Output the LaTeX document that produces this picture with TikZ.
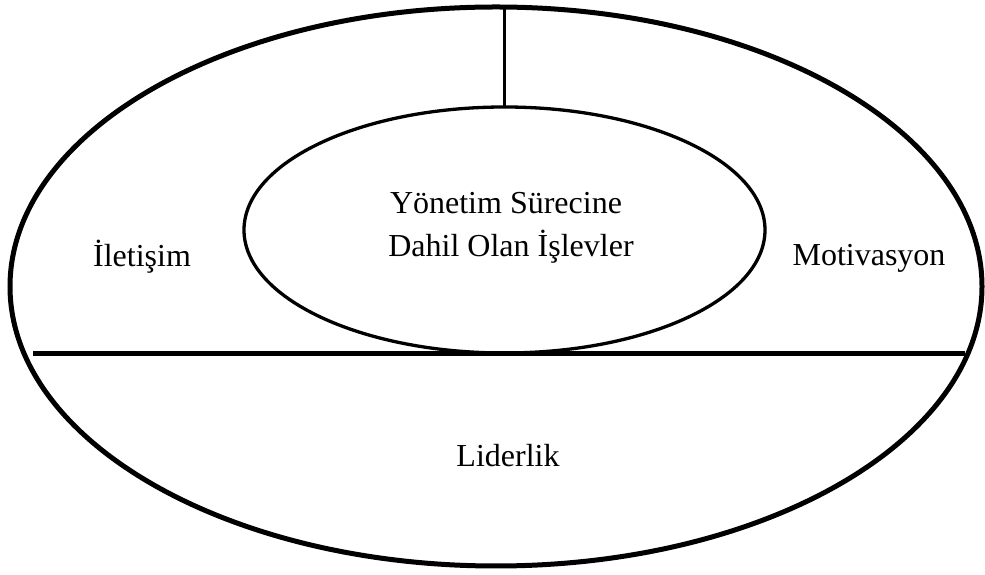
\documentclass[tikz,border=0pt]{standalone}
\usepackage{fontspec}
\setmainfont{Liberation Serif}
\usetikzlibrary{shapes.geometric}
\begin{document}
\begin{tikzpicture}[x=1pt,y=1pt,
  lbl/.style={font=\fontsize{32}{38}\selectfont, anchor=base, inner sep=0},
  oval/.style={draw, ellipse, inner sep=0, outer sep=0}]
\useasboundingbox (0,0) rectangle (985,575);
\node[oval, line width=5pt, minimum width=972pt, minimum height=559pt] (outer) at (496,288.5) {};
\node[oval, line width=3.3pt, minimum width=521pt, minimum height=246pt] (inner) at (504.5,345) {};
\coordinate (hL) at (33,221);
\coordinate (hR) at (965,221);
\draw[line width=5pt] (hL) -- (hR);
\draw[line width=3.3pt] (inner.north) -- (inner.north |- outer.north);
\node[lbl] (t1) at (506,361) {Yönetim Sürecine};
\node[lbl] (t2) at (511,318) {Dahil Olan İşlevler};
\node[lbl] (ilet) at (142,308) {İletişim};
\node[lbl] (moti) at (869,309) {Motivasyon};
\node[lbl] (lider) at (508,108) {Liderlik};
\end{tikzpicture}
\end{document}
